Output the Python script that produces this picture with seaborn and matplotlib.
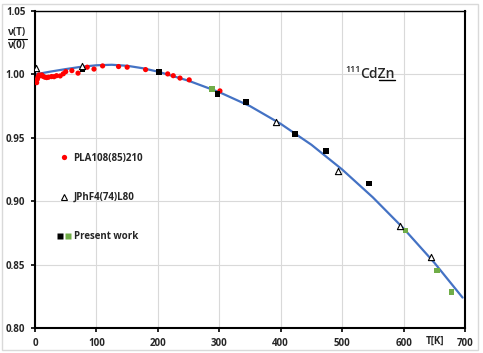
import numpy as np
import pandas as pd
import seaborn as sns
import matplotlib.pyplot as plt
from matplotlib.lines import Line2D
from matplotlib.patches import Rectangle
from matplotlib.legend_handler import HandlerTuple
from matplotlib.transforms import IdentityTransform

# PLA108(85)210 (red dots)
pla_T = [2.7, 3.8, 5, 6.5, 8, 11, 13, 16, 19, 22, 27, 31, 35, 41, 46, 50, 60, 70,
         85, 96, 110, 136, 150, 180, 216, 225, 236, 251, 301]
pla_v = [0.9935, 0.9962, 0.9980, 0.9996, 0.9990, 0.9996, 0.9985, 0.9978, 0.9975,
         0.9978, 0.9983, 0.9982, 0.9990, 0.9988, 1.0005, 1.0022, 1.0030, 1.0010,
         1.0057, 1.0042, 1.0067, 1.0062, 1.0057, 1.0038, 1.0004, 0.9990, 0.9971,
         0.9957, 0.9870]

# JPhF4(74)L80 (open triangles)
jph_T = [1.6, 76, 392, 493, 594, 644]
jph_v = [1.0049, 1.0064, 0.9628, 0.9240, 0.8807, 0.8557]

# Present work, black squares and green squares
pw_black_T = [77, 202, 297, 343, 423, 474, 544]
pw_black_v = [1.0040, 1.0020, 0.9844, 0.9781, 0.9531, 0.9398, 0.9138]
pw_green_T = [288, 603, 654, 678]
pw_green_v = [0.9886, 0.8770, 0.8455, 0.8282]

# fitted curve
fit_T = [0, 25, 50, 75, 100, 125, 150, 175, 200, 250, 300, 350, 400, 450, 500,
         550, 600, 650, 696]
fit_v = [1.0000, 1.0022, 1.0042, 1.0060, 1.0072, 1.0076, 1.0068, 1.0049, 1.0022,
         0.9950, 0.9860, 0.9750, 0.9610, 0.9445, 0.9250, 0.9030, 0.8785, 0.8515,
         0.8240]

x_ticks = [0, 100, 200, 300, 400, 500, 600, 700]
y_ticks = [0.80, 0.85, 0.90, 0.95, 1.00, 1.05]
legend_labels = ["PLA108(85)210", "JPhF4(74)L80", "Present work"]

sns.set_style("ticks")
plt.rcParams['font.family'] = ['Open Sans', 'DejaVu Sans']

fig = plt.figure(figsize=(4.83, 3.53), dpi=100)
ax = fig.add_axes([0.0725, 0.0708, 0.8903, 0.898])

# fitted curve
sns.lineplot(x=fit_T, y=fit_v, ax=ax, color='#4472C4', linewidth=1.6, zorder=2)

sns.scatterplot(x=pla_T, y=pla_v, ax=ax, color='#FF0000', s=14, edgecolor='none',
                marker='o', zorder=3)
sns.scatterplot(x=pw_black_T, y=pw_black_v, ax=ax, color='black', s=16,
                edgecolor='none', marker='s', zorder=4)
sns.scatterplot(x=pw_green_T, y=pw_green_v, ax=ax, color='#70AD47', s=16,
                edgecolor='none', marker='s', zorder=4)
sns.scatterplot(x=jph_T, y=jph_v, ax=ax, facecolor='white', edgecolor='black',
                s=20, linewidth=0.8, marker='^', zorder=5)

ax.set_xlim(0, 700)
ax.set_ylim(0.80, 1.05)
ax.set_xticks(x_ticks)
ax.set_yticks(y_ticks)
ax.set_yticklabels([f"{v:.2f}" for v in y_ticks])
ax.grid(True, color='#d9d9d9', linewidth=0.8)
ax.set_axisbelow(True)
for side in ['left', 'bottom', 'right']:
    ax.spines[side].set_linewidth(1.5)
ax.spines['top'].set_linewidth(1.0)
for sp in ax.spines.values():
    sp.set_color('black')
    sp.set_visible(True)
ax.tick_params(axis='both', direction='out', length=3, width=1.2, color='black',
               labelsize=7)
ax.tick_params(axis='y', pad=4)
ax.tick_params(axis='x', pad=4)
for lab in ax.get_xticklabels() + ax.get_yticklabels():
    lab.set_fontweight('bold')
ax.set_xlabel("")
ax.set_ylabel("")

ax.text(0.930, -0.041, "T[K]", transform=ax.transAxes, fontsize=7,
        fontweight='bold', ha='center', va='center')

# legend
h_red = Line2D([], [], ls='', marker='o', color='#FF0000', ms=3.8, mec='none')
h_tri = Line2D([], [], ls='', marker='^', mfc='white', mec='black', ms=4.5, mew=0.8)
h_blk = Line2D([], [], ls='', marker='s', color='black', ms=4, mec='none')
h_grn = Line2D([], [], ls='', marker='s', color='#70AD47', ms=4, mec='none')
ax.legend([h_red, h_tri, (h_blk, h_grn)], legend_labels,
          handler_map={tuple: HandlerTuple(ndivide=None, pad=0.0)},
          loc='upper left', bbox_to_anchor=(0.04, 0.565), frameon=False,
          labelspacing=2.9, handlelength=1.6, handletextpad=0.2,
          borderaxespad=0, prop=dict(size=7, weight='bold'))

# y label as a fraction
fig.text(0.036, 0.908, "ν(T)", fontsize=7, fontweight='bold', ha='center', va='center')
fig.text(0.036, 0.871, "ν(0)", fontsize=7, fontweight='bold', ha='center', va='center')
fig.add_artist(Line2D([0.017, 0.056], [0.8895, 0.8895], transform=fig.transFigure,
                      color='black', linewidth=0.8))

# 111CdZn label
full = ax.text(0.757, 0.789, "CdZn", transform=ax.transAxes, fontsize=10,
               fontweight='semibold', ha='left', va='baseline')
cd = ax.text(0.757, 0.789, "Cd", transform=ax.transAxes, fontsize=10,
             fontweight='semibold', ha='left', va='baseline', alpha=0)
ax.annotate("111", xy=(0, 0.62), xycoords=full, ha='right', va='baseline',
            fontsize=6.5, fontweight='semibold')

# outer chart border
fig.add_artist(Rectangle((0.005, 0.008), 0.985, 0.98, transform=fig.transFigure,
                         fill=False, edgecolor='#d9d9d9', linewidth=1))

fig.canvas.draw()
r = fig.canvas.get_renderer()
bb_full = full.get_window_extent(r)
bb_cd = cd.get_window_extent(r)
fig.add_artist(Line2D([bb_cd.x1 + 0.5, bb_full.x1 - 0.5],
                      [bb_full.y0 + 1.0, bb_full.y0 + 1.0],
                      transform=IdentityTransform(), color='black', linewidth=1.0))

fig.savefig("out.png", dpi=100)
